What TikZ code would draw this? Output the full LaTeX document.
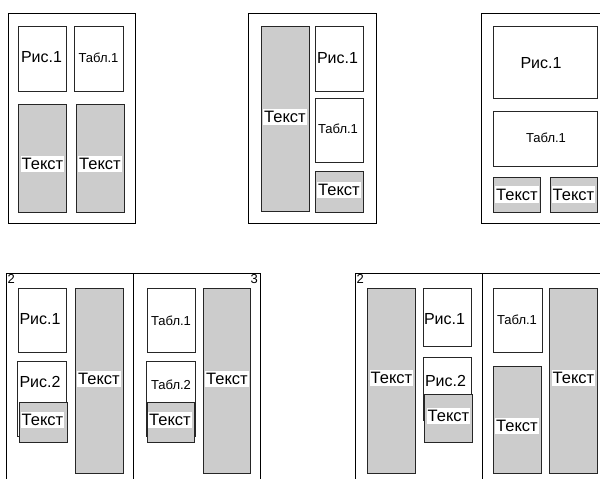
\documentclass[tikz,border=0pt]{standalone}
\usepackage{fontspec}
\setmainfont{Liberation Sans}
\begin{document}
\begin{tikzpicture}[x=1pt,y=-1pt,
  frame/.style={draw=black, line width=1pt},
  wbox/.style={draw=black!85, line width=1pt, fill=white},
  gbox/.style={draw=black!85, line width=1pt, fill=black!20},
  txt/.style={fill=white, inner xsep=1.2pt, inner ysep=2.5pt, font=\fontsize{16.5}{17}\selectfont},
  ris/.style={inner sep=1pt, font=\fontsize{16}{17}\selectfont},
  tab/.style={inner sep=1pt, font=\fontsize{13}{14}\selectfont},
  pnum/.style={inner sep=1pt, font=\fontsize{13}{14}\selectfont}]
\useasboundingbox (0,0) rectangle (600,479);
\clip (0,0) rectangle (600,479);

% ---------- Panel 1 ----------
\draw[frame] (8,13) rectangle (135,223);
\draw[wbox] (18,26) rectangle (66,91);
\node[ris] (a1) at (41.5,57) {Рис.1};
\draw[wbox] (74,26) rectangle (123,91);
\node[tab] (a2) at (98.5,58) {Табл.1};
\draw[gbox] (18,104) rectangle (66,212);
\node[txt] (a3) at (42.5,164) {Текст};
\draw[gbox] (76,104) rectangle (124,212);
\node[txt] (a4) at (100,164) {Текст};

% ---------- Panel 2 ----------
\draw[frame] (248,13) rectangle (376,223);
\draw[gbox] (261,26) rectangle (309,211);
\node[txt] (b1) at (285,117) {Текст};
\draw[wbox] (315,26) rectangle (363,91);
\node[ris] (b2) at (337.5,58) {Рис.1};
\draw[wbox] (315,98) rectangle (363,162);
\node[tab] (b3) at (338,129) {Табл.1};
\draw[gbox] (315,171) rectangle (363,212);
\node[txt] (b4) at (339,190) {Текст};

% ---------- Panel 3 ----------
\draw[frame] (481,13) rectangle (640,223);
\draw[wbox] (493,26) rectangle (597,98);
\node[ris] (c1) at (541,63) {Рис.1};
\draw[wbox] (493,111) rectangle (597,166);
\node[tab] (c2) at (546,138) {Табл.1};
\draw[gbox] (493,177) rectangle (540,212);
\node[txt] (c3) at (517,194.5) {Текст};
\draw[gbox] (550,177) rectangle (597,212);
\node[txt] (c4) at (573.5,194.5) {Текст};

% ---------- Spread 1 (bottom left) ----------
\draw[frame] (6,500) -- (6,273) -- (260,273) -- (260,500);
\draw[frame] (133,273) -- (133,500);
\node[pnum, anchor=north west] (d0) at (6.5,273.5) {2};
\node[pnum, anchor=north east] (d00) at (259,273.5) {3};
\draw[wbox] (18,288) rectangle (66,352);
\node[ris] (d1) at (40,319) {Рис.1};
\draw[wbox] (17.5,361) rectangle (66,436);
\node[ris] (d2) at (40,382) {Рис.2};
\draw[gbox] (19,402) rectangle (67,442);
\node[txt] (d3) at (42.5,420) {Текст};
\draw[gbox] (75,288) rectangle (123,473);
\node[txt] (d4) at (99,379) {Текст};
\draw[wbox] (147,288) rectangle (195,352);
\node[tab] (d5) at (171,321) {Табл.1};
\draw[wbox] (146.5,361) rectangle (195,436);
\node[tab] (d6) at (171,385) {Табл.2};
\draw[gbox] (147.5,402) rectangle (194,442);
\node[txt] (d7) at (170,420) {Текст};
\draw[gbox] (203,288) rectangle (250,473);
\node[txt] (d8) at (227,379) {Текст};

% ---------- Spread 2 (bottom right) ----------
\draw[frame] (355,500) -- (355,273) -- (609,273) -- (609,500);
\draw[frame] (482,273) -- (482,500);
\node[pnum, anchor=north west] (e0) at (355.5,273.5) {2};
\node[pnum, anchor=north east] (e00) at (608,273.5) {3};
\draw[gbox] (367,288) rectangle (415,473);
\node[txt] (e1) at (391.5,378) {Текст};
\draw[wbox] (423,288) rectangle (471,346);
\node[ris] (e2) at (444.5,319) {Рис.1};
\draw[wbox] (423,357) rectangle (471,420);
\node[ris] (e3) at (445.5,381) {Рис.2};
\draw[gbox] (424,394) rectangle (472,442);
\node[txt] (e4) at (448.5,416) {Текст};
\draw[wbox] (493,288) rectangle (542,352);
\node[tab] (e5) at (517,320) {Табл.1};
\draw[gbox] (493,366) rectangle (541,473);
\node[txt] (e6) at (517,426) {Текст};
\draw[gbox] (549,288) rectangle (597,473);
\node[txt] (e7) at (573.5,378) {Текст};
\end{tikzpicture}
\end{document}
